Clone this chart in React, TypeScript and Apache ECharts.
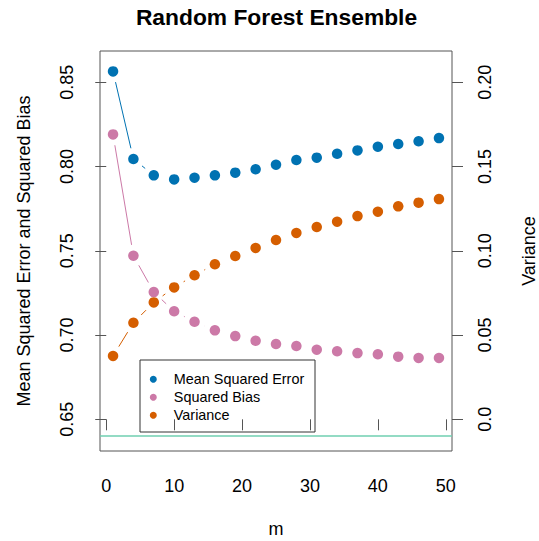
import React, { useEffect, useRef } from "react";
import * as echarts from "echarts";

const mValues = [1, 4, 7, 10, 13, 16, 19, 22, 25, 28, 31, 34, 37, 40, 43, 46, 49];
const meanSquaredError = [0.8565, 0.8045, 0.7948, 0.7924, 0.7934, 0.7948, 0.7964, 0.7984, 0.8011, 0.8039, 0.8053, 0.8076, 0.8096, 0.8118, 0.8134, 0.815, 0.8169];
const squaredBias = [0.8191, 0.7471, 0.7255, 0.7141, 0.7079, 0.7028, 0.6994, 0.6966, 0.6947, 0.6935, 0.6913, 0.6904, 0.6893, 0.6886, 0.6872, 0.6864, 0.6864];
const variance = [0.0376, 0.0573, 0.0694, 0.0783, 0.0855, 0.092, 0.0969, 0.1017, 0.1064, 0.1106, 0.1141, 0.1173, 0.1206, 0.1232, 0.1264, 0.1286, 0.1307];
const irreducibleLevel = [0.64];

const xTicks = [0, 10, 20, 30, 40, 50];
const xTickLabels = ["0", "10", "20", "30", "40", "50"];
const leftTicks = [0.65, 0.7, 0.75, 0.8, 0.85];
const leftTickLabels = ["0.65", "0.70", "0.75", "0.80", "0.85"];
const rightTicks = [0, 0.05, 0.1, 0.15, 0.2];
const rightTickLabels = ["0.0", "0.05", "0.10", "0.15", "0.20"];

const seriesNames = ["Mean Squared Error", "Squared Bias", "Variance"];
const colors = ["#0072B2", "#CC79A7", "#D55E00"];

const FONT = "'Liberation Sans', Arial, Helvetica, sans-serif";
const GAP = 11;

function pairs(xs: number[], ys: number[]) {
  return xs.map((x, i) => [x, ys[i]]);
}
function segments(xs: number[], ys: number[]) {
  const out: number[][] = [];
  for (let i = 0; i < xs.length - 1; i++) out.push([xs[i], ys[i], xs[i + 1], ys[i + 1]]);
  return out;
}
function labelFor(ticks: number[], labels: string[]) {
  return (v: number) => {
    let best = 0;
    for (let i = 1; i < ticks.length; i++) if (Math.abs(ticks[i] - v) < Math.abs(ticks[best] - v)) best = i;
    return labels[best];
  };
}

function gapLine(color: string) {
  return (_params: any, api: any) => {
    const a = api.coord([api.value(0), api.value(1)]);
    const b = api.coord([api.value(2), api.value(3)]);
    const dx = b[0] - a[0];
    const dy = b[1] - a[1];
    const d = Math.hypot(dx, dy);
    if (d <= 2 * GAP) return { type: "group", children: [] };
    const ux = dx / d;
    const uy = dy / d;
    return {
      type: "line",
      shape: { x1: a[0] + ux * GAP, y1: a[1] + uy * GAP, x2: b[0] - ux * GAP, y2: b[1] - uy * GAP },
      style: { stroke: color, lineWidth: 1 },
      silent: true,
    };
  };
}

export default function App() {
  const ref = useRef<HTMLDivElement>(null);
  useEffect(() => {
    if (!ref.current) return;
    const chart = echarts.init(ref.current, null, { renderer: "svg" });
    const axisLabelStyle = { fontSize: 18, fontFamily: FONT, color: "#000" };
    const yData = [meanSquaredError, squaredBias, variance];
    const option: any = {
      animation: false,
      backgroundColor: "#fff",
      title: {
        text: "Random Forest Ensemble",
        left: 271.5,
        textAlign: "center",
        top: 0,
        textStyle: { fontSize: 22.8, fontWeight: "bold", fontFamily: FONT, color: "#000" },
      },
      grid: {
        left: 100, right: 87, top: 51, bottom: 90,
        outerBoundsMode: "none",
        containLabel: false,
        show: true, borderColor: "#555", borderWidth: 1, backgroundColor: "transparent",
      },
      legend: {
        data: seriesNames,
        orient: "vertical",
        left: 149.8,
        top: 370.3,
        padding: 0,
        itemGap: 0,
        itemWidth: 7,
        itemHeight: 7,
        icon: "circle",
        textStyle: { fontSize: 14.4, fontFamily: FONT, color: "#000", lineHeight: 18, padding: [0, 0, 0, 12] },
      },
      xAxis: {
        type: "value",
        min: -0.92,
        max: 50.92,
        name: "m",
        nameLocation: "middle",
        nameGap: 69,
        nameTextStyle: axisLabelStyle,
        axisLine: { show: false },
        splitLine: { show: false },
        axisTick: { show: true, length: 11, lineStyle: { color: "#555" }, customValues: xTicks },
        axisLabel: { ...axisLabelStyle, margin: 26, customValues: xTicks, formatter: labelFor(xTicks, xTickLabels) },
      },
      yAxis: [
        {
          type: "value",
          min: 0.6312,
          max: 0.8686,
          name: "Mean Squared Error and Squared Bias",
          nameLocation: "middle",
          nameGap: 67,
          nameTextStyle: axisLabelStyle,
          axisLine: { show: false },
          splitLine: { show: false },
          axisTick: { show: true, length: 11, lineStyle: { color: "#555" }, customValues: leftTicks },
          axisLabel: { ...axisLabelStyle, margin: 24, rotate: 90, customValues: leftTicks, formatter: labelFor(leftTicks, leftTickLabels) },
        },
        {
          type: "value",
          position: "right",
          min: -0.0188,
          max: 0.2186,
          name: "Variance",
          nameLocation: "middle",
          nameGap: 68,
          nameRotate: 90,
          nameTextStyle: axisLabelStyle,
          axisLine: { show: false },
          splitLine: { show: false },
          axisTick: { show: true, length: 11, lineStyle: { color: "#555" }, customValues: rightTicks },
          axisLabel: { ...axisLabelStyle, margin: 24, rotate: 90, customValues: rightTicks, formatter: labelFor(rightTicks, rightTickLabels) },
        },
      ],
      series: [
        ...yData.map((ys, i) => ({
          type: "custom",
          name: seriesNames[i] + " line",
          yAxisIndex: i === 2 ? 1 : 0,
          renderItem: gapLine(colors[i]),
          data: segments(mValues, ys),
          encode: { x: [0, 2], y: [1, 3] },
          silent: true,
          z: 2,
        })),
        {
          type: "line",
          name: "irreducible",
          data: [],
          yAxisIndex: 0,
          markLine: {
            silent: true,
            symbol: "none",
            label: { show: false },
            lineStyle: { color: "#6FCFB0", width: 1.5, type: "solid" },
            data: irreducibleLevel.map((v) => ({ yAxis: v })),
          },
        },
        ...yData.map((ys, i) => ({
          type: "scatter",
          name: seriesNames[i],
          yAxisIndex: i === 2 ? 1 : 0,
          data: pairs(mValues, ys),
          symbol: "circle",
          symbolSize: 10.5,
          itemStyle: { color: colors[i], opacity: 1 },
          z: 3,
        })),
      ],
      graphic: [
        {
          type: "rect",
          shape: { x: 140, y: 360, width: 175, height: 72 },
          style: { fill: "none", stroke: "#333", lineWidth: 1 },
          z: 10,
        },
      ],
    };
    chart.setOption(option);
    return () => chart.dispose();
  }, []);
  return <div ref={ref} style={{ position: "fixed", left: 0, top: 0, width: 539, height: 541, background: "#fff" }} />;
}
